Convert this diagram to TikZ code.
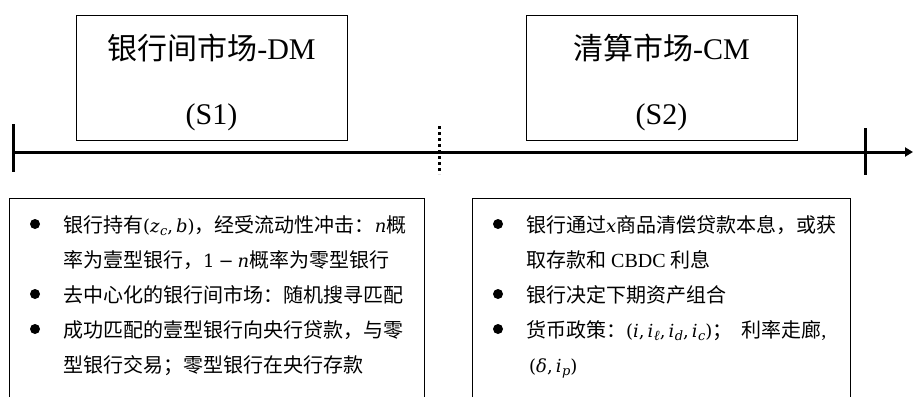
\documentclass[tikz,border=0pt]{standalone}
\usepackage{fontspec}
\setmainfont{Liberation Serif}
\newfontfamily\cjk{Noto Sans CJK SC}
\newfontfamily\mfont{DejaVu Serif}
\newcommand\mv[1]{{\mfont\fontsize{18}{22}\selectfont\itshape #1}}
\newcommand\mup[1]{{\mfont\fontsize{18}{22}\selectfont #1}}
\newcommand\mvsub[2]{\mv{#1}\kern0.5pt\raisebox{-3pt}{\mfont\fontsize{13}{15}\selectfont\itshape #2}}
\newcommand\ellsub[1]{\mv{#1}\kern0.5pt\raisebox{-3pt}{\rmfamily\fontsize{14}{16}\selectfont\itshape ℓ}}
\usetikzlibrary{arrows.meta}
\tikzset{
  stagebox/.style={draw, line width=1pt, minimum width=271pt, minimum height=125pt, inner sep=0pt},
  titletext/.style={font=\fontsize{30}{34}\selectfont, inner sep=0pt},
  bodytext/.style={font=\fontsize{20}{24}\selectfont, anchor=base west, inner sep=0pt},
  bulletdot/.style={circle, fill=black, minimum size=10pt, inner sep=0pt},
  axisline/.style={line width=3pt},
  tickline/.style={line width=3pt},
  framedraw/.style={line width=1pt},
  dotline/.style={line width=3pt, dash pattern=on 3pt off 3pt}
}
\begin{document}
\begin{tikzpicture}[x=1pt,y=-1pt]
\useasboundingbox (0,0) rectangle (913,397);
% top boxes
\node[stagebox] (dm) at (211.5,77.5) {};
\node[titletext] (dmt) at (211.5,48) {{\cjk 银行间市场}-DM};
\node[titletext] (s1) at (211.5,117) {(S1)};
\node[stagebox] (cm) at (661.5,78) {};
\node[titletext] (cmt) at (661.5,48) {{\cjk 清算市场}-CM};
\node[titletext] (s2) at (661.5,117) {(S2)};
% timeline
\coordinate (tl) at (12,152);
\coordinate (tr) at (913,152);
\draw[axisline,-{Triangle[length=8pt,width=9pt]}] (tl) -- (tr);
\coordinate (t1a) at (13,124); \coordinate (t1b) at (13,172);
\draw[tickline] (t1a) -- (t1b);
\coordinate (t2a) at (865,128); \coordinate (t2b) at (865,175);
\draw[tickline] (t2a) -- (t2b);
\coordinate (d1) at (439,126); \coordinate (d2) at (439,174);
\draw[dotline] (d1) -- (d2);
% bottom frames (open at the bottom)
\coordinate (la) at (9,397); \coordinate (lb) at (9,198);
\coordinate (lc) at (424,198); \coordinate (ld) at (424,397);
\draw[framedraw] (la) -- (lb) -- (lc) -- (ld);
\coordinate (ra) at (472,397); \coordinate (rb) at (472,198);
\coordinate (rc) at (850,198); \coordinate (rd) at (850,397);
\draw[framedraw] (ra) -- (rb) -- (rc) -- (rd);
% left bullets
\node[bulletdot] (lb1) at (35,224) {};
\node[bulletdot] (lb2) at (35,294) {};
\node[bulletdot] (lb3) at (35,329) {};
\node[bodytext] (l1) at (63,232.5) {{\cjk 银行持有}\mup{(}\mvsub{z}{c}\mup{,\,}\mv{b}\mup{)}{\cjk ，经受流动性冲击：}\mv{n}{\cjk 概}};
\node[bodytext] (l2) at (63,267.5) {{\cjk 率为壹型银行，}\mup{1\hspace{4pt}−\hspace{4pt}}\mv{n}{\cjk 概率为零型银行}};
\node[bodytext] (l3) at (63,302.5) {\cjk 去中心化的银行间市场：随机搜寻匹配};
\node[bodytext] (l4) at (63,337.5) {\cjk 成功匹配的壹型银行向央行贷款，与零};
\node[bodytext] (l5) at (63,372.5) {\cjk 型银行交易；零型银行在央行存款};
% right bullets
\node[bulletdot] (rb1) at (498,224) {};
\node[bulletdot] (rb2) at (498,294) {};
\node[bulletdot] (rb3) at (498,329) {};
\node[bodytext] (r1) at (526,232.5) {{\cjk 银行通过}\mv{x}{\cjk 商品清偿贷款本息，或获}};
\node[bodytext] (r2) at (526,267.5) {{\cjk 取存款和} CBDC {\cjk 利息}};
\node[bodytext] (r3) at (526,302.5) {\cjk 银行决定下期资产组合};
\node[bodytext] (r4) at (526,337.5) {{\cjk 货币政策：}\mup{(}\mv{i}\mup{,\,}\ellsub{i}\mup{,\,}\mvsub{i}{d}\mup{,\,}\mvsub{i}{c}\mup{)}{\cjk ；\ \ 利率走廊},};
\node[bodytext] (r5) at (529,372.5) {\mup{(}\mv{δ}\mup{,\,}\mvsub{i}{p}\mup{)}};
\end{tikzpicture}
\end{document}
